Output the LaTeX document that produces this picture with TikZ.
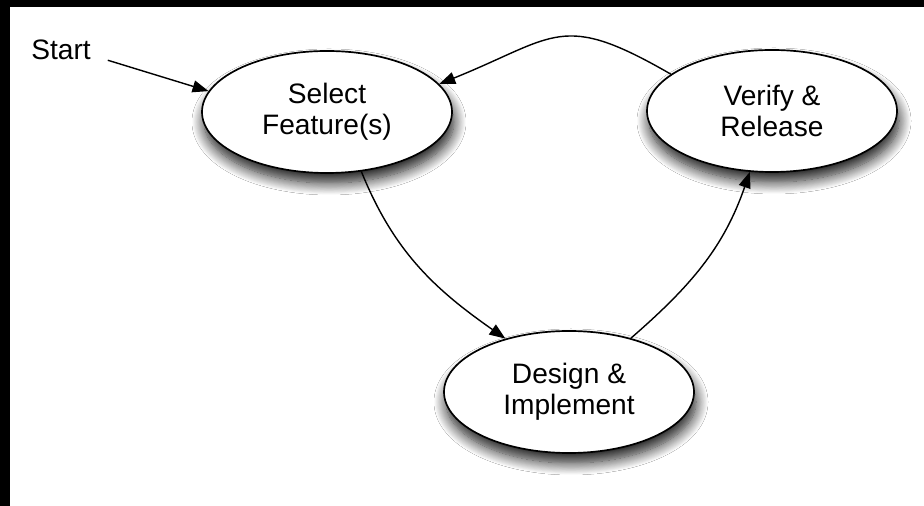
\documentclass[tikz,border=0pt]{standalone}
\usepackage{fontspec}
\setmainfont{Liberation Sans}
\usepackage{tikz}
\usetikzlibrary{shapes.geometric,arrows.meta,shadows.blur}

\begin{document}
\begin{tikzpicture}[
    stage/.style={ellipse, draw, line width=1.2pt, fill=white, align=center,
      minimum width=6.25cm, minimum height=3.05cm, inner sep=0pt,
      font=\fontsize{20}{22}\selectfont,
      blur shadow={shadow xshift=0.05cm, shadow yshift=-0.25cm,
        shadow blur radius=0.3cm, shadow blur steps=14, shadow opacity=90}},
    flow/.style={line width=1pt, -{Triangle[length=0.4cm, width=0.3cm]}}
  ]
      \useasboundingbox (0,0) rectangle (23.1,12.65);
      \fill[black] (0,0) rectangle (23.1,12.65);
      \fill[white] (0.25,0) rectangle (23.1,12.475);
      \node[font=\fontsize{20}{22}\selectfont, inner xsep=0.42cm, inner ysep=0pt] (start) at (1.525,11.4) {Start};
      \node[stage] (select) at (8.175,9.85) {Select\\Feature(s)};
      \node[stage] (verify) at (19.3,9.875) {Verify \&\\Release};
      \node[stage] (design) at (14.225,2.85) {Design \&\\Implement};
      \draw[flow] (start.south east) -- (select.170);
      \draw[flow] (select.-60) to[out=-68, in=145] (design.140);
      \draw[flow] (design.41) to[out=41, in=-109] (verify.-110);
      \draw[flow] (verify.160) to[out=150, in=22, looseness=1.4] (select.14);
    \end{tikzpicture}
\end{document}
